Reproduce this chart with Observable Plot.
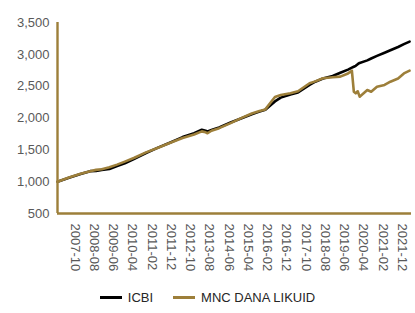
<!DOCTYPE html>
<html>
<head>
<meta charset="utf-8">
<script src="https://cdn.jsdelivr.net/npm/d3@7"></script>
<script src="https://cdn.jsdelivr.net/npm/@observablehq/plot@0.6"></script>
<style>
  html, body { margin: 0; padding: 0; background: #fff; }
  #chart { width: 415px; }
  .legend { display: flex; justify-content: center; align-items: center; gap: 20px; font: 13px "Liberation Sans", Arial, sans-serif; color: #262626; margin-top: 8px; padding-left: 0px; }
  .legend span { display: inline-flex; align-items: center; }
  .legend i { display: inline-block; width: 22px; height: 3px; margin-right: 6px; }
</style>
</head>
<body>
<div id="chart"></div>
<script>
const months = ["2007-01","2007-07","2008-01","2008-06","2008-09","2008-12","2009-04","2009-08","2009-12","2010-05","2010-11","2011-05","2011-12","2012-06","2012-12","2013-04","2013-06","2013-07","2013-09","2014-01","2014-07","2015-01","2015-06","2015-10","2016-01","2016-06","2016-09","2017-02","2017-06","2017-12","2018-03","2018-07","2018-12","2019-04","2019-08","2019-10","2019-11","2019-12","2020-01","2020-02","2020-06","2020-08","2020-11","2021-03","2021-06","2021-10","2022-01","2022-04"];
const icbi = [1000,1060,1120,1165,1170,1185,1200,1245,1290,1360,1450,1530,1620,1700,1760,1815,1800,1790,1810,1850,1930,2000,2060,2100,2130,2260,2320,2370,2400,2520,2570,2620,2660,2710,2760,2790,2805,2820,2845,2865,2905,2935,2975,3025,3065,3115,3160,3200];
const mnc = [1000,1065,1125,1165,1185,1195,1225,1268,1315,1375,1460,1530,1615,1685,1740,1790,1775,1760,1800,1840,1920,2005,2070,2110,2135,2330,2360,2390,2420,2545,2575,2625,2640,2650,2700,2743,2413,2388,2420,2335,2440,2413,2492,2520,2570,2620,2700,2743];
const tickLabels = ["2007-10","2008-08","2009-06","2010-04","2011-02","2011-12","2012-10","2013-08","2014-06","2015-04","2016-02","2016-12","2017-10","2018-08","2019-06","2020-04","2021-02","2021-12"];
const yTicks = [500,1000,1500,2000,2500,3000,3500];
const seriesNames = ["ICBI","MNC DANA LIKUID"];
const colors = ["#000000","#9d7f3a"];

const parse = d3.utcParse("%Y-%m");
const rows = [];
months.forEach((m, i) => {
  rows.push({date: parse(m), value: icbi[i], series: seriesNames[0]});
});
months.forEach((m, i) => {
  rows.push({date: parse(m), value: mnc[i], series: seriesNames[1]});
});

const xStart = parse("2007-01"), xEnd = parse("2022-05");
const gold = colors[1];

const chart = Plot.plot({
  width: 415,
  height: 282,
  marginLeft: 57,
  marginRight: 4,
  marginTop: 22,
  marginBottom: 69,
  style: {fontFamily: "'Liberation Sans', Arial, sans-serif", fontSize: "13px", color: "#595959", background: "#fff"},
  x: {type: "utc", domain: [xStart, xEnd]},
  y: {domain: [500, 3500]},
  color: {domain: seriesNames, range: colors},
  marks: [
    Plot.axisY({ticks: yTicks, tickFormat: d3.format(","), tickSize: 0, tickPadding: 8, label: null, fontSize: 13}),
    Plot.axisX({ticks: tickLabels.map(parse), tickFormat: d3.utcFormat("%Y-%m"), tickSize: 0, tickPadding: 10, tickRotate: 90, label: null, fontSize: 13}),
    Plot.lineY(rows.filter(d => d.series === seriesNames[0]), {x: "date", y: "value", stroke: "series", strokeWidth: 2.6}),
    Plot.lineY(rows.filter(d => d.series === seriesNames[1]), {x: "date", y: "value", stroke: "series", strokeWidth: 2.6}),
    Plot.ruleX([xStart], {stroke: gold, strokeWidth: 2.4}),
    Plot.ruleY([500], {stroke: gold, strokeWidth: 2.4})
  ]
});
document.getElementById("chart").appendChild(chart);

const legend = document.createElement("div");
legend.className = "legend";
seriesNames.forEach((n, i) => {
  const s = document.createElement("span");
  const sw = document.createElement("i");
  sw.style.background = colors[i];
  s.appendChild(sw);
  s.appendChild(document.createTextNode(n));
  legend.appendChild(s);
});
document.getElementById("chart").appendChild(legend);
</script>
</body>
</html>
